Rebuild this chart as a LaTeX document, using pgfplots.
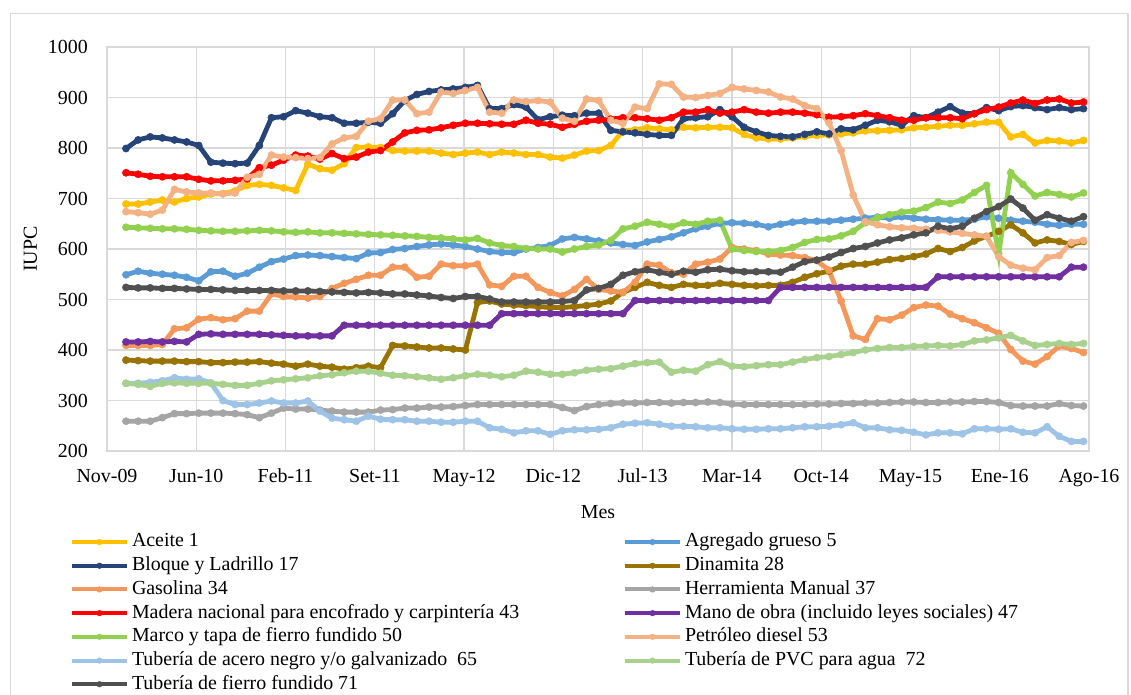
\documentclass[border=0pt]{standalone}
\usepackage{pgfplots}
\pgfplotsset{compat=1.18}
\usepackage{pgfplotstable}
\usepackage{fontspec}
\setmainfont{Liberation Serif}
\definecolor{cA}{HTML}{FFC000}
\definecolor{cB}{HTML}{5B9BD5}
\definecolor{cC}{HTML}{264478}
\definecolor{cD}{HTML}{997300}
\definecolor{cE}{HTML}{F4975A}
\definecolor{cF}{HTML}{A5A5A5}
\definecolor{cG}{HTML}{FF0000}
\definecolor{cH}{HTML}{7030A0}
\definecolor{cI}{HTML}{92D050}
\definecolor{cJ}{HTML}{F4B183}
\definecolor{cK}{HTML}{9DC3E6}
\definecolor{cL}{HTML}{A9D18E}
\definecolor{cM}{HTML}{505050}
\definecolor{gridgray}{HTML}{D9D9D9}
\newcommand{\fnt}{\fontsize{20}{24}\selectfont}
\newcommand{\lgbox}[1]{\makebox[491bp][l]{#1}}
\pgfplotstableread{
i A B C D E F G H I J K L M
0 689 549 799 380 409 259 751 416 643 674 334 334 524
1 689 556 816 379 409 259 748 416 642 672 334 332 523
2 693 552 822 378 409 259 744 417 641 669 336 328 523
3 697 550 820 378 411 266 743 416 640 677 339 334 522
4 693 548 816 378 442 274 743 417 640 718 345 335 522
5 700 544 812 377 444 274 743 416 639 713 342 334 521
6 703 537 805 377 461 275 738 431 637 711 343 334 520
7 709 555 772 375 464 275 735 432 636 711 335 334 520
8 710 556 770 375 460 275 735 431 635 709 300 332 519
9 715 546 769 376 462 274 736 431 635 711 292 330 518
10 726 552 770 376 477 272 739 431 636 742 292 330 518
11 728 564 805 377 477 266 761 431 637 748 295 334 518
12 726 575 860 374 511 275 766 430 636 786 299 339 518
13 721 580 862 372 506 285 776 429 634 782 295 341 517
14 716 587 874 368 505 283 786 428 633 781 295 343 517
15 768 588 869 372 503 283 784 428 634 779 299 345 517
16 759 587 862 368 506 281 778 428 632 781 279 349 516
17 756 585 860 366 522 279 789 428 632 808 265 351 515
18 769 583 849 362 532 277 779 449 631 820 262 355 514
19 801 581 849 365 540 277 782 449 630 823 259 358 513
20 802 592 851 368 548 277 792 449 629 853 269 358 514
21 801 593 849 365 548 281 795 449 628 858 263 354 513
22 795 599 868 409 564 282 812 449 627 895 262 350 511
23 794 601 894 408 564 285 830 449 626 895 262 349 511
24 794 605 906 406 544 285 835 449 625 868 259 347 509
25 794 608 912 404 546 287 836 449 623 871 259 345 507
26 790 610 915 404 570 287 840 449 622 911 257 342 504
27 787 608 917 402 567 288 845 449 620 908 257 345 502
28 790 605 920 400 567 290 849 449 618 914 259 349 506
29 792 600 924 494 570 292 849 449 621 920 259 352 506
30 787 595 878 497 529 292 848 449 612 871 246 350 501
31 792 593 878 491 526 292 847 472 607 869 243 347 495
32 790 593 886 489 546 292 847 472 605 895 236 350 495
33 787 600 881 488 546 292 855 472 601 892 240 358 495
34 787 603 856 486 524 292 849 472 600 894 240 356 495
35 782 607 862 484 514 292 847 472 600 891 233 352 495
36 780 620 865 484 507 286 841 472 594 859 240 352 496
37 786 623 864 486 520 280 847 472 600 853 242 355 498
38 794 620 869 488 540 288 853 472 605 897 242 360 519
39 795 616 869 491 520 292 855 472 608 894 243 362 522
40 805 612 835 497 517 294 857 472 617 855 246 363 530
41 834 609 832 514 514 295 860 472 640 849 253 368 548
42 836 607 830 524 534 295 860 498 645 881 255 373 555
43 840 614 827 534 570 296 858 498 653 878 256 375 559
44 838 619 825 528 568 296 855 498 649 927 253 376 554
45 836 624 825 524 553 295 860 498 644 926 249 356 550
46 841 632 858 530 550 296 871 498 652 901 249 360 556
47 840 640 860 528 570 296 871 498 649 900 248 358 554
48 841 645 862 528 574 297 876 498 655 904 246 371 559
49 841 651 876 532 580 296 869 498 657 908 246 377 560
50 840 652 862 530 603 293 871 498 600 920 244 368 557
51 827 651 841 528 600 292 876 498 597 917 243 367 555
52 820 649 832 527 597 292 871 498 595 914 243 369 555
53 818 644 825 528 590 292 869 498 595 911 244 371 555
54 818 649 823 528 588 292 871 524 597 901 244 371 554
55 820 653 822 534 587 292 871 524 603 897 246 376 564
56 823 655 827 544 583 292 869 524 613 884 248 381 575
57 825 655 832 551 577 293 866 524 619 878 248 385 578
58 826 655 828 556 558 293 861 524 620 850 249 387 584
59 828 657 838 566 497 294 862 524 626 795 252 391 593
60 830 659 836 570 428 294 864 524 635 707 256 395 601
61 834 661 845 570 421 295 868 524 652 654 246 400 605
62 834 663 855 574 462 295 864 524 662 648 246 403 612
63 835 661 852 579 460 296 860 524 668 644 242 405 618
64 836 664 845 581 469 297 855 524 673 642 241 405 622
65 840 661 864 585 484 297 855 524 675 641 237 407 628
66 841 659 860 590 489 296 860 524 682 639 232 408 632
67 843 658 871 601 487 296 860 545 693 637 236 409 645
68 845 657 882 595 471 297 860 545 690 634 236 408 640
69 845 657 869 603 462 297 858 545 697 631 234 411 645
70 848 659 868 616 454 298 868 545 712 628 244 418 661
71 851 664 880 625 444 298 876 545 726 625 244 420 674
72 851 661 874 635 433 296 881 545 590 585 243 424 684
73 822 657 882 648 401 290 889 545 751 568 244 429 699
74 827 655 884 632 378 289 895 545 728 562 237 418 681
75 810 653 880 612 372 289 888 545 705 559 236 409 657
76 815 649 876 618 387 289 895 545 712 583 248 411 668
77 814 647 880 615 408 294 897 545 708 587 229 413 661
78 810 649 876 609 403 290 889 564 703 613 219 411 655
79 815 649 878 615 395 289 891 564 711 617 219 413 664
}\datatable
\pgfplotsset{ser/.style={color=#1, mark=*, line width=4.8bp, mark size=3.6bp, mark options={solid, fill=#1, draw=#1, line width=0.5bp}}}
\begin{document}
\begin{tikzpicture}
\path[use as bounding box] (0bp,0bp) rectangle (1131bp,695bp);
\draw[gridgray, line width=1.2bp] (10.5bp,-10bp) rectangle (1128bp,681.5bp);
\begin{axis}[
  at={(107bp,244bp)}, anchor=south west, scale only axis,
  width=982bp, height=404bp,
  xmin=-1.568, xmax=79.455, ymin=200, ymax=1000,
  xtick={-1.568,5.798,13.163,20.529,27.895,35.260,42.626,49.992,57.357,64.723,72.089,79.455},
  xticklabels={Nov-09,Jun-10,Feb-11,Set-11,May-12,Dic-12,Jul-13,Mar-14,Oct-14,May-15,Ene-16,Ago-16},
  ytick={200,300,...,1000},
  grid=major,
  grid style={draw=gridgray, line width=1.3bp},
  axis line style={draw=gridgray, line width=1.3bp},
  major tick length=0pt,
  tick style={draw=none},
  /pgf/number format/assume math mode=true,
  /pgf/number format/1000 sep={},
  tick label style={font=\fnt},
  yticklabel style={inner sep=0pt, xshift=-19bp},
  xticklabel style={inner sep=0pt, text height=14.5bp, text depth=4.6bp, yshift=-17bp},
  label style={font=\fnt},
  xlabel={Mes},
  xlabel style={at={(axis description cs:0.5,-0.151)}, anchor=center},
  ylabel={IUPC},
  ylabel style={at={(axis description cs:-0.078,0.5)}, anchor=center},
  legend columns=2,
  legend cell align=left,
  legend style={at={(axis description cs:-0.03768,-0.2017)}, anchor=north west,
    draw=none, fill=none, inner sep=0pt, outer sep=0pt, font=\fnt,
    row sep=4.6bp,
    nodes={inner sep=0pt, text height=14.5bp, text depth=4.6bp},
    /tikz/every odd column/.append style={column sep=3bp}},
  legend image code/.code={\draw[mark repeat=2,mark phase=2,#1,line width=4bp,mark size=2.8bp] plot coordinates {(0bp,0bp) (27.5bp,0bp) (55bp,0bp)};},
]
\addplot[ser=cA] table[x=i,y=A]{\datatable}; \addlegendentry{\lgbox{Aceite 1}}
\addplot[ser=cB] table[x=i,y=B]{\datatable}; \addlegendentry{\lgbox{Agregado grueso 5}}
\addplot[ser=cC] table[x=i,y=C]{\datatable}; \addlegendentry{\lgbox{Bloque y Ladrillo 17}}
\addplot[ser=cD] table[x=i,y=D]{\datatable}; \addlegendentry{\lgbox{Dinamita 28}}
\addplot[ser=cE] table[x=i,y=E]{\datatable}; \addlegendentry{\lgbox{Gasolina 34}}
\addplot[ser=cF] table[x=i,y=F]{\datatable}; \addlegendentry{\lgbox{Herramienta Manual 37}}
\addplot[ser=cG] table[x=i,y=G]{\datatable}; \addlegendentry{\lgbox{Madera nacional para encofrado y carpintería 43}}
\addplot[ser=cH] table[x=i,y=H]{\datatable}; \addlegendentry{\lgbox{Mano de obra (incluido leyes sociales) 47}}
\addplot[ser=cI] table[x=i,y=I]{\datatable}; \addlegendentry{\lgbox{Marco y tapa de fierro fundido 50}}
\addplot[ser=cJ] table[x=i,y=J]{\datatable}; \addlegendentry{\lgbox{Petróleo diesel 53}}
\addplot[ser=cK] table[x=i,y=K]{\datatable}; \addlegendentry{\lgbox{Tubería de acero negro y/o galvanizado~~65}}
\addplot[ser=cL] table[x=i,y=L]{\datatable}; \addlegendentry{\lgbox{Tubería de PVC para agua~~72}}
\addplot[ser=cM] table[x=i,y=M]{\datatable}; \addlegendentry{\lgbox{Tubería de fierro fundido 71}}
\end{axis}
\end{tikzpicture}
\end{document}
